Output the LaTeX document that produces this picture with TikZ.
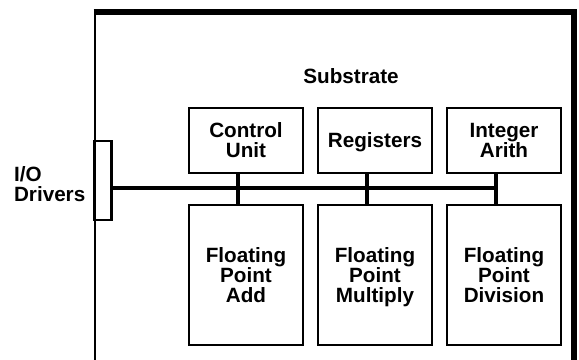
\documentclass[tikz,border=0pt]{standalone}
\usepackage{fontspec}
\setmainfont{Liberation Sans}
\begin{document}
\begin{tikzpicture}[x=0.75pt, y=-0.75pt,
  txt/.style={font=\bfseries\fontsize{15.5}{15}\selectfont},
  unit/.style={txt, draw, line width=2pt, minimum width=85.5pt, inner sep=0pt, align=center, text depth=0pt},
  bus/.style={line width=3pt}]
  \useasboundingbox (0,0) rectangle (579,360);
  % Substrate outline (open at the bottom)
  \draw[line width=1.8pt] (95,360) -- (95,12);
  \draw[line width=4pt, line join=miter] (93.5,12) -- (574,12) -- (574,360);
  \node[txt] (sub) at (351,76) {Substrate};
  % Top row
  \node[unit, minimum height=48.75pt] (cu) at (246,140.5) {Control\\Unit};
  \node[unit, minimum height=48.75pt] (reg) at (375,140.5) {Registers};
  \node[unit, minimum height=48.75pt] (ia) at (504,140.5) {Integer\\Arith};
  % Bottom row
  \node[unit, minimum height=105pt] (fpa) at (246,275) {Floating\\Point\\Add};
  \node[unit, minimum height=105pt] (fpm) at (375,275) {Floating\\Point\\Multiply};
  \node[unit, minimum height=105pt] (fpd) at (504,275) {Floating\\Point\\Division};
  % I/O drivers pad
  \node[draw, line width=2pt, minimum width=12.5pt, minimum height=59pt, inner sep=0pt] (io) at (103,180.5) {};
  \node[txt, align=left, anchor=east] (iol) at (90,184) {I/O\\Drivers};
  % Bus
  \coordinate (busstart) at ([yshift=-5.5pt]io.east);
  \coordinate (busend) at ([xshift=-6pt]ia.south);
  \draw[bus] (busstart) -- (busstart -| busend);
  \foreach \t/\b in {cu/fpa, reg/fpm, ia/fpd}
    \draw[bus] ([xshift=-6pt]\t.south) -- ([xshift=-6pt]\b.north);
\end{tikzpicture}
\end{document}
